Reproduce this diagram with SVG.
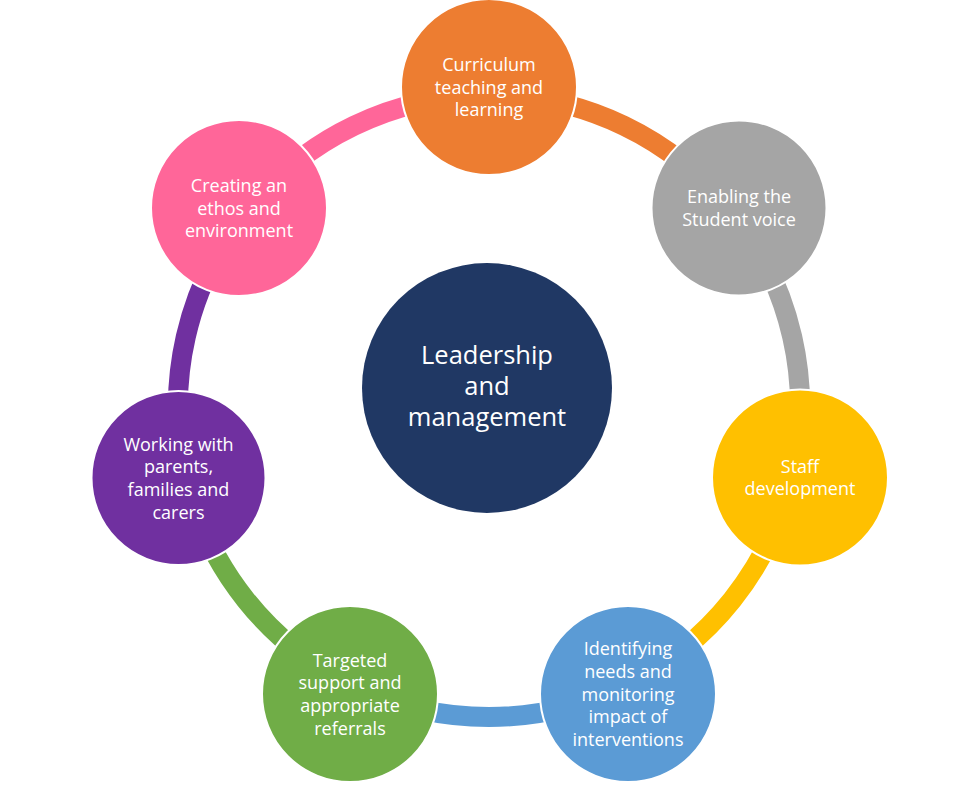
<svg xmlns="http://www.w3.org/2000/svg" width="978" height="785" viewBox="0 0 978 785">
<style>
.arc{fill:none;stroke-width:20;}
.node{stroke:#ffffff;stroke-width:2;}
.t{font-family:"Open Sans","Noto Sans",sans-serif;font-size:18px;fill:#ffffff;text-anchor:middle;}
.tc{font-family:"Open Sans","Noto Sans",sans-serif;font-size:25.5px;fill:#ffffff;text-anchor:middle;}
</style>
<rect width="978" height="785" fill="#ffffff"/>
<g id="connectors">
<path class="arc" stroke="#ED7D31" d="M489,95 A311,311 0 0 1 732.15,212.09"/>
<path class="arc" stroke="#A5A5A5" d="M732.15,212.09 A311,311 0 0 1 792.20,475.20"/>
<path class="arc" stroke="#FFC000" d="M792.20,475.20 A311,311 0 0 1 623.94,686.20"/>
<path class="arc" stroke="#5B9BD5" d="M623.94,686.20 A311,311 0 0 1 354.06,686.20"/>
<path class="arc" stroke="#70AD47" d="M354.06,686.20 A311,311 0 0 1 185.80,475.20"/>
<path class="arc" stroke="#7030A0" d="M185.80,475.20 A311,311 0 0 1 245.85,212.09"/>
<path class="arc" stroke="#FF6699" d="M245.85,212.09 A311,311 0 0 1 489,95"/>
</g>
<g id="center">
<circle cx="487" cy="388" r="125" fill="#203864"/>
<text class="tc" x="487" y="364">Leadership</text>
<text class="tc" x="487" y="395">and</text>
<text class="tc" x="487" y="426">management</text>
</g>
<g id="curriculum">
<circle class="node" cx="489" cy="87" r="88" fill="#ED7D31"/>
<text class="t" x="489" y="70.8">Curriculum</text>
<text class="t" x="489" y="93.5">teaching and</text>
<text class="t" x="489" y="116.2">learning</text>
</g>
<g id="student-voice">
<circle class="node" cx="739" cy="208" r="87.5" fill="#A5A5A5"/>
<text class="t" x="739" y="203.1">Enabling the</text>
<text class="t" x="739" y="225.8">Student voice</text>
</g>
<g id="staff">
<circle class="node" cx="800" cy="477.5" r="88" fill="#FFC000"/>
<text class="t" x="800" y="472.6">Staff</text>
<text class="t" x="800" y="495.3">development</text>
</g>
<g id="identifying">
<circle class="node" cx="628" cy="694" r="88" fill="#5B9BD5"/>
<text class="t" x="628" y="655.1">Identifying</text>
<text class="t" x="628" y="677.8">needs and</text>
<text class="t" x="628" y="700.5">monitoring</text>
<text class="t" x="628" y="723.2">impact of</text>
<text class="t" x="628" y="745.9">interventions</text>
</g>
<g id="targeted">
<circle class="node" cx="350" cy="694" r="88" fill="#70AD47"/>
<text class="t" x="350" y="666.5">Targeted</text>
<text class="t" x="350" y="689.2">support and</text>
<text class="t" x="350" y="711.9">appropriate</text>
<text class="t" x="350" y="734.6">referrals</text>
</g>
<g id="parents">
<circle class="node" cx="178.5" cy="478" r="87" fill="#7030A0"/>
<text class="t" x="178.5" y="450.5">Working with</text>
<text class="t" x="178.5" y="473.2">parents,</text>
<text class="t" x="178.5" y="495.9">families and</text>
<text class="t" x="178.5" y="518.6">carers</text>
</g>
<g id="ethos">
<circle class="node" cx="239" cy="208" r="88" fill="#FF6699"/>
<text class="t" x="239" y="191.8">Creating an</text>
<text class="t" x="239" y="214.5">ethos and</text>
<text class="t" x="239" y="237.2">environment</text>
</g>
</svg>
